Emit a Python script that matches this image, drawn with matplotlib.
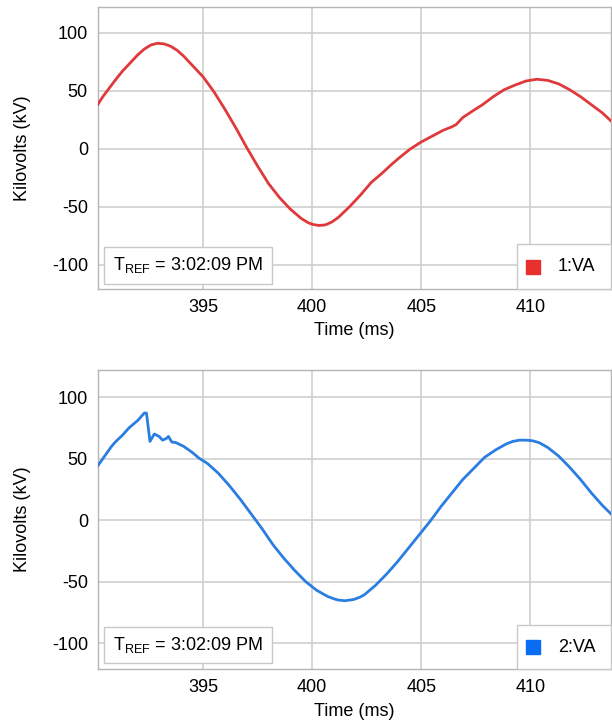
import matplotlib
matplotlib.use("Agg")
import matplotlib.pyplot as plt
from matplotlib.patches import Rectangle

plt.rcParams['font.family'] = ['Liberation Sans', 'DejaVu Sans']
plt.rcParams['mathtext.fontset'] = 'custom'
plt.rcParams['mathtext.rm'] = 'Liberation Sans'
plt.rcParams['mathtext.it'] = 'Liberation Sans'
plt.rcParams['axes.unicode_minus'] = False

# channel 1:VA
t_va1 = [390.16, 390.4, 390.6, 390.8, 391.0, 391.3, 391.6, 392.0, 392.3, 392.6,
         392.9, 393.2, 393.5, 393.8, 394.1, 394.5, 395.0, 395.5, 396.0, 396.5,
         397.0, 397.5, 398.0, 398.5, 399.0, 399.5, 399.8, 400.0, 400.3, 400.6,
         400.9, 401.2, 401.7, 402.2, 402.7, 403.2, 403.6, 404.0, 404.5, 405.0,
         405.5, 406.0, 406.4, 406.6, 406.9, 407.3, 407.8, 408.3, 408.8, 409.3,
         409.8, 410.3, 410.8, 411.3, 411.8, 412.3, 412.8, 413.3, 413.7]
kv_va1 = [38, 45, 50, 55, 60, 67, 73, 81, 86, 89.5,
          91, 90.5, 88.5, 85, 80, 72, 62, 49, 34, 18,
          1, -15, -30, -42, -52, -60, -63.5, -65, -66, -65.5,
          -63, -59, -50, -40, -29, -21, -14, -7.5, 0, 6,
          11, 16, 19, 21, 27, 32, 38, 45, 51, 55,
          58.5, 60, 59, 56, 51, 45, 38, 31, 24]

# channel 2:VA
t_va2 = [390.16, 390.4, 390.6, 390.8, 391.0, 391.3, 391.6, 392.0, 392.3, 392.4,
         392.56, 392.76, 392.98, 393.14, 393.32, 393.41, 393.56, 393.75, 394.1, 394.5,
         394.8, 395.2, 395.7, 396.2, 396.7, 397.2, 397.7, 398.2, 398.7, 399.2,
         399.7, 400.2, 400.7, 401.0, 401.2, 401.5, 401.9, 402.2, 402.4, 402.9,
         403.4, 403.9, 404.4, 404.9, 405.4, 405.9, 406.4, 406.9, 407.4, 407.9,
         408.4, 408.9, 409.2, 409.5, 409.8, 410.1, 410.4, 410.8, 411.3, 411.8,
         412.3, 412.8, 413.3, 413.7]
kv_va2 = [44, 50, 55, 60, 64, 69, 75, 81, 87, 87,
          64, 70, 68, 65, 66.5, 68, 63.5, 63, 60, 55,
          50.5, 46, 38, 28, 17, 5, -7, -20, -31, -41,
          -50, -57, -62, -64, -65, -65.5, -64.5, -62.5, -60.5, -53,
          -44, -34, -23, -12, -1, 11, 22, 33, 42, 51,
          57, 62, 64, 65, 65, 64.5, 63, 59, 52, 43,
          33, 22, 12, 5]

x_ticks = [395, 400, 405, 410]
y_ticks = [-100, -50, 0, 50, 100]
t_ref = r"T$_\mathrm{REF}$ = 3:02:09 PM"

fig = plt.figure(figsize=(6.12, 7.22), dpi=100)

panels = [
    # axes rect, data, colour, legend square colour, label, box tops
    ([0.1595, 0.5993, 0.839, 0.3906], t_va1, kv_va1, '#e0393c', '#e8302f', '1:VA', 0.150, 0.161),
    ([0.1595, 0.0734, 0.839, 0.4141], t_va2, kv_va2, '#2a7de1', '#0a6cf0', '2:VA', 0.140, 0.147),
]

for rect, t, kv, col, sqcol, name, box_top, leg_top in panels:
    ax = fig.add_axes(rect)
    ax.plot(t, kv, color=col, lw=2.0, solid_joinstyle='round', zorder=3)
    ax.set_xlim(390.16, 413.7)
    ax.set_ylim(-121, 122)
    ax.set_xticks(x_ticks)
    ax.set_yticks(y_ticks)
    ax.grid(True, color='#cfcfcf', lw=1.2)
    ax.set_axisbelow(True)
    ax.tick_params(length=0, labelsize=13, pad=7)
    for s in ax.spines.values():
        s.set_color('#b5b5b5')
        s.set_linewidth(1.0)
    ax.set_xlabel('Time (ms)', fontsize=13)
    ax.set_ylabel('Kilovolts (kV)', fontsize=13)
    ax.xaxis.set_label_coords(0.5, -0.115)
    ax.yaxis.set_label_coords(-0.13, 0.5)

    # T_REF box
    ax.add_patch(Rectangle((0.0125, 0.02), 0.3275, box_top - 0.02, transform=ax.transAxes,
                           facecolor='white', edgecolor='#c8c8c8', lw=1.0, zorder=5))
    ax.text(0.03, 0.02 + (box_top - 0.02) / 2, t_ref, transform=ax.transAxes,
            fontsize=13, va='center', ha='left', zorder=6)

    # legend box in the lower right corner
    ax.add_patch(Rectangle((0.817, 0.0), 0.183, leg_top, transform=ax.transAxes,
                           facecolor='white', edgecolor='#c8c8c8', lw=1.0, zorder=5,
                           clip_on=False))
    ax.plot([0.847], [leg_top / 2], marker='s', ms=9.5, color=sqcol,
            transform=ax.transAxes, zorder=6, clip_on=False)
    ax.text(0.896, leg_top / 2, name, transform=ax.transAxes, fontsize=13,
            va='center', ha='left', zorder=6)

fig.savefig('out.png', dpi=100, facecolor='white')
